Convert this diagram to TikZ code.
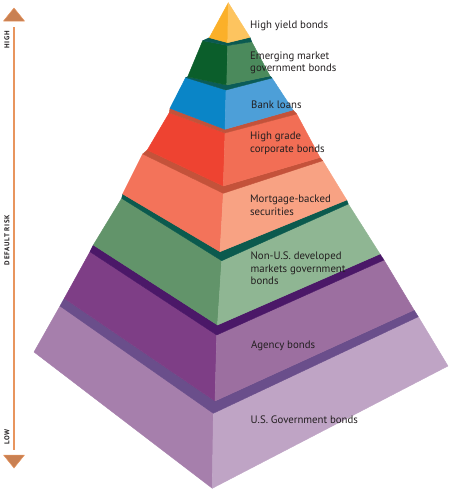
\documentclass[tikz,border=0pt]{standalone}
\usepackage{fontspec}
\setmainfont{PT Sans}
\definecolor{ylL}{HTML}{FBB029}\definecolor{ylR}{HTML}{FDC45F}
\definecolor{emL}{HTML}{0B5E2B}\definecolor{emR}{HTML}{4B8A5C}\definecolor{emT}{HTML}{0B5A50}
\definecolor{blL}{HTML}{0A85C7}\definecolor{blR}{HTML}{4D9FD8}\definecolor{blT}{HTML}{0B5C58}
\definecolor{rdL}{HTML}{EE4331}\definecolor{rdR}{HTML}{F26E55}\definecolor{rdT}{HTML}{C4523A}
\definecolor{mbL}{HTML}{F3735A}\definecolor{mbR}{HTML}{F8A283}\definecolor{mbT}{HTML}{C4523A}
\definecolor{grL}{HTML}{62946A}\definecolor{grR}{HTML}{8FB693}\definecolor{grT}{HTML}{0B5A4E}
\definecolor{agL}{HTML}{7E3E86}\definecolor{agR}{HTML}{9C6FA0}\definecolor{agT}{HTML}{4B1868}
\definecolor{usL}{HTML}{A67FAC}\definecolor{usR}{HTML}{BFA4C5}\definecolor{usT}{HTML}{6A4E8B}
\definecolor{axc}{HTML}{E8955E}\definecolor{axf}{HTML}{C98052}\definecolor{txt}{HTML}{231F20}
\begin{document}
\begin{tikzpicture}[x=1pt,y=-1pt,
  face/.style={fill=#1,draw=#1,line width=0.4pt,line join=round},
  lbl/.style={anchor=west,align=left,font=\fontsize{10.8}{12.5}\selectfont,text=txt,inner sep=0pt},
  axl/.style={rotate=90,font=\fontsize{7}{8}\selectfont\bfseries\addfontfeatures{LetterSpace=10},text=txt,inner sep=0pt},
  axline/.style={draw=axc,line width=1.2pt},
  axtri/.style={fill=axf,draw=axc,line width=0.5pt,line join=round}]
\useasboundingbox (0,0) rectangle (450,491);
% --- U.S. Government bonds
\path[face=usL] (34,352)--(212.3,488.3)--(213.3,413.3)--(60,306)--cycle;
\path[face=usR] (212.3,488.3)--(448,366)--(418.3,316.7)--(213.3,413.3)--cycle;
\path[face=usT] (60,306)--(213.3,413.3)--(418.3,316.7)--(414,310)--(215,401)--(64.3,298.3)--cycle;
% --- Agency
\path[face=agL] (64.3,298.3)--(215,401)--(216.7,335)--(90,251.7)--cycle;
\path[face=agR] (215,401)--(414,310)--(384,260)--(216.7,335)--cycle;
\path[face=agT] (90,251.7)--(216.7,335)--(384,260)--(380,254)--(217.5,325)--(93.3,245)--cycle;
% --- Non-U.S.
\path[face=grL] (93.3,245)--(217.5,325)--(221.7,260.7)--(121.7,198.3)--cycle;
\path[face=grR] (217.5,325)--(380,254)--(348.3,204)--(221.7,260.7)--cycle;
\path[face=grT] (121.7,198.3)--(221.7,260.7)--(348.3,204)--(346.7,200)--(220,251.7)--(122.7,194)--cycle;
% --- Mortgage-backed
\path[face=mbL] (122.7,194)--(220,251.7)--(223.3,193.3)--(142.7,154)--cycle;
\path[face=mbR] (220,251.7)--(346.7,200)--(322.7,160.7)--(223.3,193.3)--cycle;
\path[face=mbT] (142.7,154)--(223.3,193.3)--(322.7,160.7)--(320,157.5)--(223.3,186)--(147.3,150)--cycle;
% --- High grade
\path[face=rdL] (147.3,150)--(223.3,186)--(225,133)--(169.3,112.7)--cycle;
\path[face=rdR] (223.3,186)--(320,157.5)--(296.7,114)--(225,133)--cycle;
\path[face=rdT] (169.3,112.7)--(225,133)--(296.7,114)--(293,110)--(225,129.3)--(170,108.3)--cycle;
% --- Bank loans
\path[face=blL] (170,108.3)--(225,129.3)--(226,90)--(185.7,77.5)--cycle;
\path[face=blR] (225,129.3)--(293,110)--(272,78)--(226,90)--cycle;
\path[face=blT] (185.7,77.5)--(226,90)--(272,78)--(270,76)--(226.7,85)--(187.7,76.7)--cycle;
% --- Emerging market
\path[face=emL] (187.7,76.7)--(226.7,85)--(227.7,45.5)--(202.7,40.7)--cycle;
\path[face=emR] (226.7,85)--(270,76)--(251.7,41.7)--(227.7,45.5)--cycle;
\path[face=emT] (202.7,40.7)--(227.7,45.5)--(251.7,41.7)--(250,37.3)--(227.7,42.7)--(209.3,37.7)--cycle;
% --- High yield
\path[face=ylL] (209.3,37.7)--(227.7,42.7)--(228.3,2.7)--cycle;
\path[face=ylR] (227.7,42.7)--(250,37.3)--(228.3,2.7)--cycle;
% --- labels
\node[lbl] (hy) at (250,25.5) {High yield bonds};
\node[lbl] (em) at (250,63) {Emerging market\\government bonds};
\node[lbl] (bl) at (251,104.5) {Bank loans};
\node[lbl] (hg) at (250,143.5) {High grade\\corporate bonds};
\node[lbl] (mb) at (250,205.5) {Mortgage-backed\\securities};
\node[lbl] (nu) at (250.5,268.5) {Non-U.S. developed\\markets government\\bonds};
\node[lbl] (ag) at (251,345.5) {Agency bonds};
\node[lbl] (us) at (250.5,419.5) {U.S. Government bonds};
% --- axis
\coordinate (axtop) at (14,27);
\coordinate (axbot) at (14,450);
\draw[axline] (axtop) -- (axbot);
\path[axtri] (3.5,21)--(24.5,21)--(14,8)--cycle;
\path[axtri] (3.5,455)--(24.5,455)--(14,468)--cycle;
\node[axl] (hi) at (7,40) {HIGH};
\node[axl] (dr) at (7,240) {DEFAULT RISK};
\node[axl] (lo) at (7,437) {LOW};
\end{tikzpicture}
\end{document}
